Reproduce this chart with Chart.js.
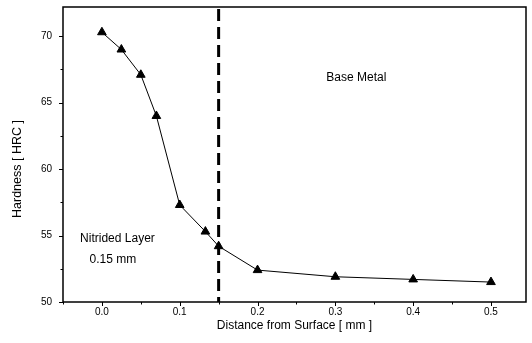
<!DOCTYPE html>
<html>
<head>
<meta charset="utf-8">
<script src="https://cdn.jsdelivr.net/npm/chart.js@4.4.1/dist/chart.umd.min.js"></script>
<style>
  html, body { margin: 0; padding: 0; background: #fff; }
  #wrap { width: 532px; height: 343px; }
</style>
</head>
<body>
<div id="wrap"><canvas id="c" width="532" height="343"></canvas></div>
<script>
// ---- data ----
const distanceMm = [0.0, 0.025, 0.05, 0.07, 0.1, 0.133, 0.15, 0.2, 0.3, 0.4, 0.5];
const hardnessHRC = [70.3, 69.0, 67.1, 64.0, 57.3, 55.3, 54.2, 52.4, 51.9, 51.7, 51.5];
const layerDepth = 0.15;
const xTickValues = [-0.05, 0.0, 0.05, 0.1, 0.15, 0.2, 0.25, 0.3, 0.35, 0.4, 0.45, 0.5];
const xTickLabels = ['', '0.0', '', '0.1', '', '0.2', '', '0.3', '', '0.4', '', '0.5'];
const yTickValues = [50, 52.5, 55, 57.5, 60, 62.5, 65, 67.5, 70];
const yTickLabels = ['50', '', '55', '', '60', '', '65', '', '70'];
const xTitle = 'Distance from Surface [ mm ]';
const yTitle = 'Hardness [ HRC ]';
const baseLabel = 'Base Metal';
const layerLabel = ['Nitrided Layer', '0.15 mm'];

const FONT = '"Liberation Sans", Arial, sans-serif';

const zeroPad = s => { s.paddingTop = 0; s.paddingBottom = 0; s.paddingLeft = 0; s.paddingRight = 0; };

const framePlugin = {
  id: 'frame',
  afterDraw(chart) {
    const { ctx, chartArea: a, scales } = chart;
    const xs = scales.x, ys = scales.y;
    ctx.save();
    // dashed boundary line
    const px = xs.getPixelForValue(layerDepth);
    ctx.strokeStyle = '#000';
    ctx.lineWidth = 3;
    ctx.setLineDash([12, 6]);
    ctx.beginPath();
    ctx.moveTo(px, a.top + 2);
    ctx.lineTo(px, a.bottom);
    ctx.stroke();
    ctx.setLineDash([]);
    // frame
    ctx.lineWidth = 1.5;
    ctx.strokeRect(a.left, a.top, a.right - a.left, a.bottom - a.top);
    // ticks
    ctx.lineWidth = 1;
    ctx.beginPath();
    xs.ticks.forEach((t, i) => {
      const p = Math.round(xs.getPixelForValue(t.value)) + 0.5;
      const len = xTickLabels[i] ? 4 : 2.5;
      ctx.moveTo(p, a.bottom);
      ctx.lineTo(p, a.bottom + len);
    });
    ys.ticks.forEach((t, i) => {
      const p = Math.round(ys.getPixelForValue(t.value)) + 0.5;
      const len = yTickLabels[i] ? 4 : 2.5;
      ctx.moveTo(a.left, p);
      ctx.lineTo(a.left - len, p);
    });
    ctx.stroke();
    // annotations
    ctx.fillStyle = '#000';
    ctx.font = '12px ' + FONT;
    ctx.textAlign = 'center';
    ctx.textBaseline = 'middle';
    ctx.fillText(baseLabel, xs.getPixelForValue(0.327), ys.getPixelForValue(66.9));
    ctx.fillText(layerLabel[0], xs.getPixelForValue(0.02), ys.getPixelForValue(54.75));
    ctx.fillText(layerLabel[1], xs.getPixelForValue(0.014), ys.getPixelForValue(53.2));
    // y axis title
    ctx.save();
    ctx.translate(18, 169);
    ctx.rotate(-Math.PI / 2);
    ctx.font = '12.5px ' + FONT;
    ctx.fillText(yTitle, 0, 0);
    ctx.restore();
    ctx.restore();
  }
};

new Chart(document.getElementById('c'), {
  type: 'scatter',
  data: {
    datasets: [{
      data: distanceMm.map((x, i) => ({ x, y: hardnessHRC[i] })),
      showLine: true,
      borderColor: '#000',
      borderWidth: 1,
      backgroundColor: '#000',
      pointBackgroundColor: '#000',
      pointBorderColor: '#000',
      pointBorderWidth: 1,
      pointStyle: 'triangle',
      pointRadius: 5,
      tension: 0
    }]
  },
  options: {
    responsive: false,
    animation: false,
    events: [],
    layout: { padding: { left: 0, top: 7, right: 3, bottom: 0 } },
    plugins: { legend: { display: false }, tooltip: { enabled: false } },
    scales: {
      x: {
        type: 'linear',
        min: -0.05,
        max: 0.545,
        afterBuildTicks: s => { s.ticks = xTickValues.map(v => ({ value: v })); },
        afterFit: s => { s.height = 41; zeroPad(s); },
        ticks: {
          autoSkip: false,
          maxRotation: 0,
          padding: 0,
          color: '#000',
          font: { family: FONT, size: 10 },
          callback: (v, i) => xTickLabels[i]
        },
        grid: { drawOnChartArea: false, drawTicks: true, tickLength: 4, color: 'rgba(0,0,0,0)' },
        border: { display: false },
        title: {
          display: true, text: xTitle, color: '#000',
          font: { family: FONT, size: 12 },
          padding: { top: 0, bottom: 10 }
        }
      },
      y: {
        type: 'linear',
        min: 50,
        max: 72.2,
        afterBuildTicks: s => { s.ticks = yTickValues.map(v => ({ value: v })); },
        afterFit: s => { s.width = 63; zeroPad(s); },
        ticks: {
          autoSkip: false,
          padding: 7,
          color: '#000',
          font: { family: FONT, size: 10 },
          callback: (v, i) => yTickLabels[i]
        },
        grid: { drawOnChartArea: false, drawTicks: true, tickLength: 4, color: 'rgba(0,0,0,0)' },
        border: { display: false },
        title: { display: false }
      }
    }
  },
  plugins: [framePlugin]
});
</script>
</body>
</html>
